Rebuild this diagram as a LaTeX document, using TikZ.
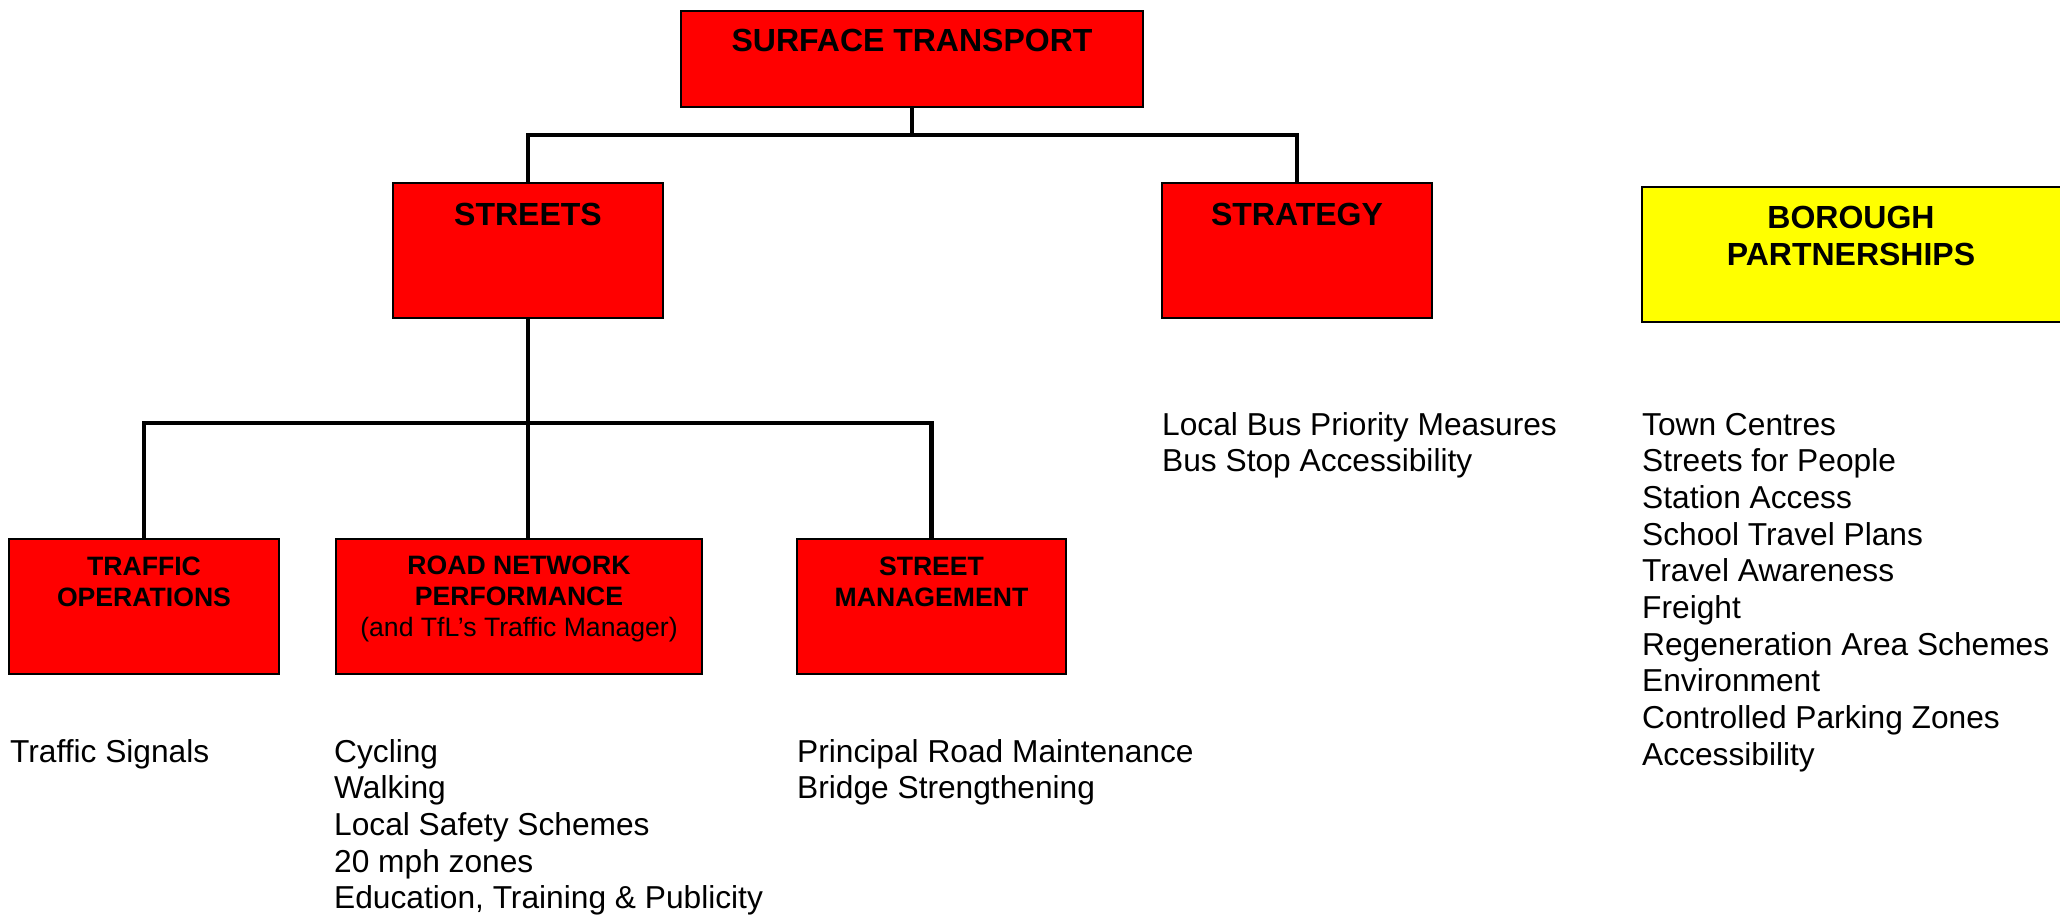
\documentclass[tikz,border=0pt]{standalone}
\usepackage{fontspec}
\setmainfont{Liberation Sans}
\usetikzlibrary{calc}
\definecolor{unitred}{HTML}{FF0000}
\definecolor{unityellow}{HTML}{FFFF00}

\begin{document}
\begin{tikzpicture}[x=1pt,y=-1pt,
unit/.style={draw=black,fill=#1,line width=2pt,inner sep=0pt,minimum width=270pt,minimum height=135pt},
unit/.default=unitred,
head/.style={font=\fontsize{32}{36.8}\selectfont\bfseries,align=center,anchor=base,inner sep=0pt},
subhead/.style={font=\fontsize{26.6}{30.6}\selectfont\bfseries,align=center,anchor=base,inner sep=0pt},
items/.style={font=\fontsize{31.7}{36.7}\selectfont,align=left,anchor=base west,inner sep=0pt},
link/.style={line width=4.5pt}]
\useasboundingbox (0,0) rectangle (2060,915);
% boxes
\node[unit,minimum width=462pt,minimum height=96pt] (surface) at (912,59) {};
\node[unit] (streets) at (528,250.5) {};
\node[unit] (strategy) at (1297,250.5) {};
\node[unit=unityellow,minimum width=424pt] (borough) at (1854,254.5) {};
\node[unit] (traffic) at (144,606.5) {};
\node[unit,minimum width=366pt] (road) at (519,606.5) {};
\node[unit,minimum width=269pt] (stmgmt) at (931.5,606.5) {};
% box titles (base = last line)
\node[head] (surfacetxt) at (912,52) {SURFACE TRANSPORT};
\node[head] (streetstxt) at (528,225) {STREETS};
\node[head] (strategytxt) at (1297,225) {STRATEGY};
\node[head] (boroughtxt) at (1851,265) {BOROUGH\\PARTNERSHIPS};
\node[subhead] (traffictxt) at (144,606) {TRAFFIC\\OPERATIONS};
\node[subhead] (roadtxt) at (519,636) {ROAD NETWORK\\PERFORMANCE\\{\mdseries (and TfL’s Traffic Manager)}};
\node[subhead] (stmgmttxt) at (931.5,606) {STREET\\MANAGEMENT};
% responsibilities
\node[items] (strategylist) at (1162,471.7) {Local Bus Priority Measures\\Bus Stop Accessibility};
\node[items] (boroughlist) at (1642,765.3) {Town Centres\\Streets for People\\Station Access\\School Travel Plans\\Travel Awareness\\Freight\\Regeneration Area Schemes\\Environment\\Controlled Parking Zones\\Accessibility};
\node[items] (trafficlist) at (10,762) {Traffic Signals};
\node[items] (roadlist) at (334,908.8) {Cycling\\Walking\\Local Safety Schemes\\20 mph zones\\Education, Training \& Publicity};
\node[items] (stmgmtlist) at (797,798.7) {Principal Road Maintenance\\Bridge Strengthening};
% tree lines
\coordinate (topbus) at (912,135);
\coordinate (midbus) at (528,423);
\draw[link] (surface) -- (topbus);
\draw[link] (streets.north) |- (topbus) -| (strategy.north);
\draw[link] (streets) -- (midbus);
\draw[link] (traffic.north) |- (midbus) -| (stmgmt.north);
\draw[link] (midbus) -- (midbus |- road.north);
\end{tikzpicture}
\end{document}
